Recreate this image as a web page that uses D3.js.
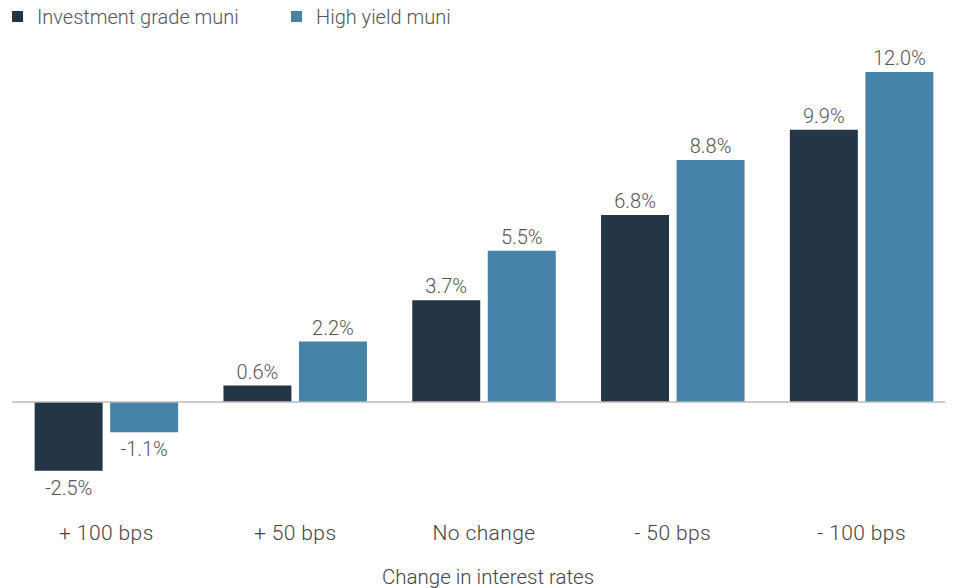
<!DOCTYPE html>
<html><head><meta charset="utf-8">
<script src="https://cdn.jsdelivr.net/npm/d3@7"></script>
<style>body{margin:0;background:#fff}svg{display:block}text{font-family:"Roboto","Liberation Sans",sans-serif;font-weight:300}</style>
</head><body>
<svg id="c" width="956" height="588"></svg>
<script>
const categories = ["+ 100 bps", "+ 50 bps", "No change", "- 50 bps", "- 100 bps"];
const seriesNames = ["Investment grade muni", "High yield muni"];
const investmentGrade = [-2.5, 0.6, 3.7, 6.8, 9.9];
const highYield = [-1.1, 2.2, 5.5, 8.8, 12.0];
const colors = ["#243646", "#4583a8"];

const svg = d3.select("#c");
const x0 = d3.scaleBand().domain(categories).range([12, 956]).paddingInner(0.24).paddingOuter(0.12);
const x1 = d3.scaleBand().domain([0, 1]).range([0, x0.bandwidth()]).paddingInner(0.1);
const y = d3.scaleLinear().domain([0, 12]).range([402, 72]);

const data = categories.map((c, i) => ({c, v: [investmentGrade[i], highYield[i]]}));

const g = svg.append("g");
data.forEach(d => {
  d.v.forEach((v, j) => {
    const xx = x0(d.c) + x1(j);
    g.append("rect").attr("x", xx).attr("width", x1.bandwidth())
      .attr("y", v >= 0 ? y(v) : y(0)).attr("height", Math.abs(y(v) - y(0)))
      .attr("fill", colors[j]);
    g.append("text").attr("x", xx + x1.bandwidth() / 2)
      .attr("y", v >= 0 ? y(v) - 7 : y(v) + 24)
      .attr("text-anchor", "middle").attr("font-size", 20).attr("fill", "#555")
      .text(v.toFixed(1) + "%");
  });
});

svg.append("line").attr("x1", 12).attr("x2", 945).attr("y1", y(0)).attr("y2", y(0))
  .attr("stroke", "#bbb").attr("stroke-width", 1.5);

categories.forEach(c => {
  svg.append("text").attr("x", x0(c) + x0.bandwidth() / 2).attr("y", 540)
    .attr("text-anchor", "middle").attr("font-size", 21).attr("letter-spacing", 0.4)
    .attr("fill", "#444").text(c);
});
svg.append("text").attr("x", 488).attr("y", 584).attr("text-anchor", "middle")
  .attr("font-size", 20.5).attr("fill", "#444").text("Change in interest rates");

const legX = [12, 291];
seriesNames.forEach((n, j) => {
  svg.append("rect").attr("x", legX[j]).attr("y", 11).attr("width", 11).attr("height", 11).attr("fill", colors[j]);
  svg.append("text").attr("x", legX[j] + 25).attr("y", 24).attr("font-size", 20).attr("fill", "#555").text(n);
});
</script>
</body></html>
